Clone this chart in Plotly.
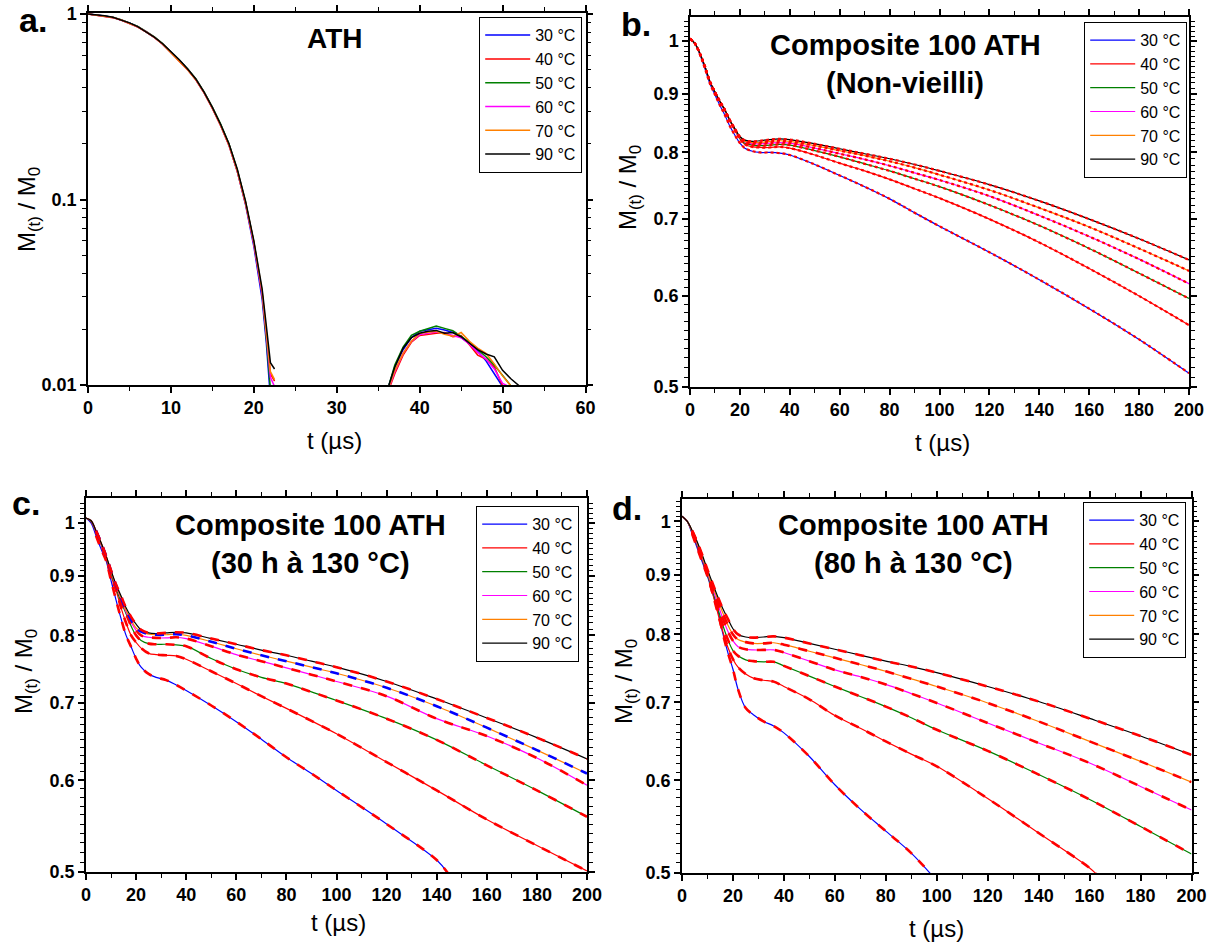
import plotly.graph_objects as go

# ---------------- DATA ----------------
temps = ["30 °C", "40 °C", "50 °C", "60 °C", "70 °C", "90 °C"]

# Panel a (ATH) - first lobe
a_t1 = [0, 1, 2, 3, 4, 5, 6, 7, 8, 9, 10, 11, 12, 13, 14, 15, 16, 17, 18, 19, 20, 21, 21.5, 22, 22.5]
a1_30 = [1.0, 0.99, 0.978, 0.96, 0.93, 0.895, 0.855, 0.805, 0.75, 0.69, 0.625, 0.565, 0.505, 0.445, 0.378, 0.312, 0.252, 0.197, 0.142, 0.094, 0.056, 0.029, 0.017, 0.0085, None]
a1_40 = [1.0, 0.985, 0.975, 0.957, 0.928, 0.892, 0.852, 0.802, 0.748, 0.688, 0.622, 0.562, 0.502, 0.442, 0.376, 0.31, 0.25, 0.196, 0.142, 0.095, 0.058, 0.031, 0.019, 0.0115, 0.0105]
a1_50 = [1.0, 0.99, 0.98, 0.962, 0.933, 0.898, 0.858, 0.808, 0.753, 0.693, 0.628, 0.568, 0.508, 0.448, 0.381, 0.315, 0.255, 0.2, 0.145, 0.097, 0.059, 0.031, 0.018, 0.0095, None]
a1_60 = [1.0, 0.988, 0.977, 0.958, 0.929, 0.894, 0.854, 0.804, 0.749, 0.689, 0.624, 0.564, 0.504, 0.444, 0.377, 0.311, 0.251, 0.197, 0.143, 0.096, 0.058, 0.031, 0.019, 0.011, 0.0098]
a1_70 = [1.0, 0.987, 0.976, 0.958, 0.929, 0.893, 0.853, 0.803, 0.749, 0.689, 0.623, 0.563, 0.503, 0.443, 0.377, 0.311, 0.251, 0.197, 0.143, 0.096, 0.059, 0.032, 0.02, 0.0118, 0.0107]
a1_90 = [1.0, 0.99, 0.979, 0.961, 0.932, 0.897, 0.857, 0.807, 0.752, 0.692, 0.627, 0.567, 0.507, 0.447, 0.38, 0.314, 0.254, 0.2, 0.146, 0.098, 0.06, 0.033, 0.021, 0.0132, 0.0122]

# Panel a (ATH) - second lobe
a_t2 = [36.3, 37, 38, 39, 40, 41, 42, 43, 44, 45, 46, 47, 48, 49, 50, 51, 52]
a2_30 = [0.01, 0.0125, 0.0155, 0.018, 0.0195, 0.0198, 0.0202, 0.0198, 0.0192, 0.018, 0.0167, 0.0152, 0.0135, 0.0115, 0.0098, None, None]
a2_40 = [0.0095, 0.0115, 0.0145, 0.017, 0.0185, 0.0188, 0.019, 0.0192, 0.0182, 0.0185, 0.0165, 0.0145, 0.0138, 0.0125, 0.0099, None, None]
a2_50 = [0.01, 0.0128, 0.016, 0.0185, 0.0195, 0.0202, 0.0208, 0.0202, 0.0196, 0.0183, 0.017, 0.0155, 0.0142, 0.0128, 0.0112, 0.0099, None]
a2_60 = [0.0097, 0.0118, 0.0148, 0.0172, 0.0187, 0.019, 0.0193, 0.019, 0.0185, 0.018, 0.0166, 0.015, 0.0138, 0.0122, 0.0102, 0.0097, None]
a2_70 = [0.0098, 0.012, 0.0148, 0.0172, 0.019, 0.0192, 0.0195, 0.0188, 0.0183, 0.0192, 0.0172, 0.0158, 0.0148, 0.013, 0.0112, 0.0099, None]
a2_90 = [0.01, 0.0125, 0.0158, 0.018, 0.019, 0.0195, 0.0197, 0.019, 0.0192, 0.0182, 0.0168, 0.0155, 0.0147, 0.0142, 0.012, 0.0108, 0.0099]

# Panels b, c, d share the time grid (µs)
t_grid = [0, 2, 4, 6, 8, 10, 12, 14, 16, 18, 20, 22, 25, 28, 32, 36, 40, 50, 60, 70, 80, 90, 100, 120, 140, 160, 180, 200]

# Panel b: Composite 100 ATH (Non-vieilli)
b_30 = [1.005, 0.995, 0.973, 0.946, 0.918, 0.898, 0.879, 0.862, 0.843, 0.828, 0.815, 0.807, 0.802, 0.800, 0.800, 0.799, 0.796, 0.781, 0.764, 0.747, 0.729, 0.709, 0.690, 0.655, 0.620, 0.585, 0.550, 0.514]
b_40 = [1.005, 0.995, 0.975, 0.95, 0.922, 0.903, 0.886, 0.870, 0.852, 0.836, 0.822, 0.813, 0.809, 0.808, 0.808, 0.809, 0.807, 0.796, 0.783, 0.771, 0.758, 0.744, 0.730, 0.700, 0.668, 0.634, 0.600, 0.566]
b_50 = [1.005, 0.995, 0.975, 0.95, 0.922, 0.903, 0.886, 0.871, 0.853, 0.838, 0.823, 0.815, 0.812, 0.811, 0.812, 0.813, 0.812, 0.803, 0.793, 0.782, 0.771, 0.759, 0.747, 0.720, 0.691, 0.660, 0.628, 0.597]
b_60 = [1.005, 0.995, 0.975, 0.95, 0.922, 0.903, 0.886, 0.871, 0.853, 0.838, 0.824, 0.817, 0.814, 0.814, 0.815, 0.816, 0.815, 0.807, 0.798, 0.789, 0.779, 0.768, 0.757, 0.733, 0.705, 0.676, 0.646, 0.615]
b_70 = [1.005, 0.995, 0.975, 0.95, 0.922, 0.903, 0.886, 0.871, 0.853, 0.839, 0.825, 0.818, 0.816, 0.816, 0.818, 0.819, 0.818, 0.811, 0.803, 0.795, 0.786, 0.776, 0.765, 0.742, 0.716, 0.689, 0.660, 0.631]
b_90 = [1.005, 0.995, 0.975, 0.95, 0.922, 0.903, 0.886, 0.871, 0.853, 0.839, 0.826, 0.820, 0.818, 0.819, 0.821, 0.822, 0.821, 0.814, 0.806, 0.798, 0.790, 0.781, 0.771, 0.750, 0.726, 0.700, 0.673, 0.645]

# Panel c: Composite 100 ATH (30 h à 130 °C)
c_t30 = [0, 2, 4, 6, 8, 10, 12, 14, 16, 18, 20, 22, 25, 28, 32, 36, 40, 50, 60, 70, 80, 90, 100, 120, 140, 145]
c_30 = [1.01, 1.0, 0.975, 0.95, 0.928, 0.892, 0.858, 0.827, 0.800, 0.782, 0.764, 0.751, 0.741, 0.736, 0.732, 0.725, 0.717, 0.696, 0.674, 0.651, 0.628, 0.608, 0.588, 0.550, 0.512, 0.497]
c_40 = [1.01, 1.003, 0.982, 0.958, 0.932, 0.900, 0.875, 0.845, 0.820, 0.800, 0.789, 0.780, 0.772, 0.770, 0.769, 0.768, 0.763, 0.745, 0.727, 0.709, 0.692, 0.675, 0.658, 0.622, 0.588, 0.555, 0.527, 0.501]
c_50 = [1.01, 1.004, 0.984, 0.96, 0.934, 0.905, 0.878, 0.855, 0.835, 0.815, 0.800, 0.792, 0.787, 0.786, 0.786, 0.785, 0.783, 0.764, 0.748, 0.736, 0.727, 0.715, 0.703, 0.678, 0.650, 0.618, 0.588, 0.558]
c_60 = [1.01, 1.005, 0.985, 0.961, 0.936, 0.908, 0.882, 0.86, 0.838, 0.821, 0.808, 0.800, 0.797, 0.796, 0.796, 0.797, 0.795, 0.783, 0.770, 0.760, 0.750, 0.740, 0.730, 0.709, 0.678, 0.655, 0.627, 0.594]
c_70 = [1.01, 1.005, 0.985, 0.962, 0.937, 0.909, 0.884, 0.862, 0.841, 0.825, 0.812, 0.806, 0.802, 0.801, 0.801, 0.802, 0.800, 0.790, 0.779, 0.769, 0.760, 0.751, 0.742, 0.721, 0.695, 0.666, 0.637, 0.608]
c_90 = [1.01, 1.005, 0.985, 0.962, 0.937, 0.91, 0.885, 0.865, 0.845, 0.83, 0.818, 0.809, 0.804, 0.803, 0.804, 0.805, 0.804, 0.795, 0.786, 0.777, 0.769, 0.760, 0.751, 0.730, 0.705, 0.679, 0.653, 0.626]

# Panel d: Composite 100 ATH (80 h à 130 °C)
d_t30 = [0, 2, 4, 6, 8, 10, 12, 14, 16, 18, 20, 22, 25, 28, 32, 36, 40, 50, 60, 70, 80, 90, 98]
d_30 = [1.01, 1.0, 0.975, 0.948, 0.922, 0.897, 0.868, 0.84, 0.802, 0.772, 0.747, 0.718, 0.692, 0.683, 0.674, 0.668, 0.659, 0.629, 0.595, 0.567, 0.543, 0.520, 0.498]
d_t40 = [0, 2, 4, 6, 8, 10, 12, 14, 16, 18, 20, 22, 25, 28, 32, 36, 40, 50, 60, 70, 80, 90, 100, 120, 140, 160, 163]
d_40 = [1.01, 1.0, 0.978, 0.952, 0.926, 0.900, 0.868, 0.835, 0.805, 0.780, 0.762, 0.750, 0.740, 0.734, 0.731, 0.729, 0.722, 0.704, 0.682, 0.665, 0.648, 0.632, 0.617, 0.579, 0.541, 0.505, 0.498]
d_50 = [1.01, 1.0, 0.979, 0.954, 0.928, 0.900, 0.872, 0.843, 0.815, 0.792, 0.775, 0.767, 0.761, 0.759, 0.758, 0.758, 0.752, 0.737, 0.722, 0.708, 0.694, 0.679, 0.663, 0.636, 0.607, 0.578, 0.548, 0.519]
d_60 = [1.01, 1.0, 0.98, 0.956, 0.93, 0.903, 0.876, 0.85, 0.826, 0.805, 0.790, 0.781, 0.777, 0.776, 0.776, 0.776, 0.772, 0.759, 0.746, 0.736, 0.725, 0.712, 0.699, 0.672, 0.646, 0.621, 0.593, 0.566]
d_70 = [1.01, 1.0, 0.981, 0.958, 0.932, 0.905, 0.880, 0.857, 0.835, 0.815, 0.800, 0.792, 0.788, 0.786, 0.786, 0.787, 0.784, 0.774, 0.764, 0.754, 0.744, 0.733, 0.722, 0.699, 0.674, 0.648, 0.623, 0.598]
d_90 = [1.01, 1.0, 0.982, 0.96, 0.935, 0.909, 0.885, 0.862, 0.842, 0.825, 0.809, 0.800, 0.796, 0.795, 0.796, 0.797, 0.795, 0.786, 0.777, 0.768, 0.759, 0.751, 0.742, 0.722, 0.701, 0.678, 0.655, 0.631]

# ---------------- STYLE / LAYOUT ----------------
W, H = 1213, 944
colors = ["#0000ff", "#ff0000", "#008000", "#ff00ff", "#ff8000", "#000000"]
FONT = "Liberation Sans, Arial, sans-serif"


def px(x):
    return x / W


def py(y):
    return 1 - y / H


fig = go.Figure()

# panel a
a_x = a_t1 + [None] + a_t2
a_sets = [(a1_30, a2_30), (a1_40, a2_40), (a1_50, a2_50), (a1_60, a2_60), (a1_70, a2_70), (a1_90, a2_90)]
for i, (l1, l2) in enumerate(a_sets):
    fig.add_trace(go.Scatter(x=a_x, y=l1 + [None] + l2, mode="lines", name=temps[i],
                             line=dict(color=colors[i], width=1.5), connectgaps=False,
                             xaxis="x", yaxis="y", legend="legend"))

# panel b
b_sets = [b_30, b_40, b_50, b_60, b_70, b_90]
for i, v in enumerate(b_sets):
    fig.add_trace(go.Scatter(x=t_grid, y=v, mode="lines", name=temps[i], line_shape="spline",
                             line=dict(color=colors[i], width=1.2), xaxis="x2", yaxis="y2", legend="legend2"))
for i, v in enumerate(b_sets):
    fig.add_trace(go.Scatter(x=t_grid, y=v, mode="lines", showlegend=False, line_shape="spline",
                             line=dict(color="#ff0000", width=2.2, dash="dot"), xaxis="x2", yaxis="y2"))

# panel c
c_sets = [(c_t30, c_30), (t_grid, c_40), (t_grid, c_50), (t_grid, c_60), (t_grid, c_70), (t_grid, c_90)]
for i, (tx, v) in enumerate(c_sets):
    fig.add_trace(go.Scatter(x=tx, y=v, mode="lines", name=temps[i], line_shape="spline",
                             line=dict(color=colors[i], width=1.2), xaxis="x3", yaxis="y3", legend="legend3"))
for i, (tx, v) in enumerate(c_sets):
    fc = "#0000ff" if i == 4 else "#ff0000"
    fig.add_trace(go.Scatter(x=tx[2:], y=v[2:], mode="lines", showlegend=False, line_shape="spline",
                             line=dict(color=fc, width=2.6, dash="dash"), xaxis="x3", yaxis="y3"))

# panel d
d_sets = [(d_t30, d_30), (d_t40, d_40), (t_grid, d_50), (t_grid, d_60), (t_grid, d_70), (t_grid, d_90)]
for i, (tx, v) in enumerate(d_sets):
    fig.add_trace(go.Scatter(x=tx, y=v, mode="lines", name=temps[i], line_shape="spline",
                             line=dict(color=colors[i], width=1.2), xaxis="x4", yaxis="y4", legend="legend4"))
for i, (tx, v) in enumerate(d_sets):
    fig.add_trace(go.Scatter(x=tx[2:], y=v[2:], mode="lines", showlegend=False, line_shape="spline",
                             line=dict(color="#ff0000", width=2.6, dash="dash"), xaxis="x4", yaxis="y4"))

tickfont = dict(family=FONT, size=18, color="black", weight="bold")
common = dict(showline=True, linecolor="black", linewidth=1.5, mirror="allticks", ticks="outside",
              ticklen=6, tickwidth=1.5, tickcolor="black", showgrid=False, zeroline=False,
              tickfont=tickfont, automargin=False)

lin_major_b = [0, 20, 40, 60, 80, 100, 120, 140, 160, 180, 200]
lin_minor_b = [10, 30, 50, 70, 90, 110, 130, 150, 170, 190]
y_major = [0.5, 0.6, 0.7, 0.8, 0.9, 1.0]
y_text = ["0.5", "0.6", "0.7", "0.8", "0.9", "1"]
y_minor = [round(0.5 + 0.01 * k, 2) for k in range(1, 55) if k % 10 != 0]
minor_lin = dict(tickvals=lin_minor_b, ticklen=4, tickwidth=1.2, tickcolor="black", ticks="outside")
minor_log = dict(tickvals=y_minor, ticklen=4, tickwidth=1.1, tickcolor="black", ticks="outside")

dom = {
    "a": ([px(88), px(585.5)], [py(385), py(13)]),
    "b": ([px(690), px(1189)], [py(387), py(17)]),
    "c": ([px(86), px(587)], [py(872), py(498)]),
    "d": ([px(682), px(1191.5)], [py(873), py(499)]),
}

a_minor_y = [k * 0.01 for k in range(2, 10)] + [k * 0.1 for k in range(2, 10)]

fig.update_layout(
    width=W, height=H, margin=dict(l=0, r=0, t=0, b=0),
    paper_bgcolor="white", plot_bgcolor="white",
    font=dict(family=FONT, color="black"),
    xaxis=dict(domain=dom["a"][0], anchor="y", range=[0, 60], tickvals=[0, 10, 20, 30, 40, 50, 60],
               minor=dict(tickvals=[5, 15, 25, 35, 45, 55], ticklen=4, tickwidth=1.2, tickcolor="black", ticks="outside"),
               **common),
    yaxis=dict(domain=dom["a"][1], anchor="x", type="log", range=[-2, 0.006],
               tickvals=[0.01, 0.1, 1], ticktext=["0.01", "0.1", "1"],
               minor=dict(tickvals=a_minor_y, ticklen=4, tickwidth=1.2, tickcolor="black", ticks="outside"),
               **common),
    xaxis2=dict(domain=dom["b"][0], anchor="y2", range=[0, 200], tickvals=lin_major_b, minor=minor_lin, **common),
    yaxis2=dict(domain=dom["b"][1], anchor="x2", type="log", range=[-0.30103, 0.021],
                tickvals=y_major, ticktext=y_text, minor=minor_log, **common),
    xaxis3=dict(domain=dom["c"][0], anchor="y3", range=[0, 200], tickvals=lin_major_b, minor=minor_lin, **common),
    yaxis3=dict(domain=dom["c"][1], anchor="x3", type="log", range=[-0.30103, 0.0216],
                tickvals=y_major, ticktext=y_text, minor=minor_log, **common),
    xaxis4=dict(domain=dom["d"][0], anchor="y4", range=[0, 200], tickvals=lin_major_b, minor=minor_lin, **common),
    yaxis4=dict(domain=dom["d"][1], anchor="x4", type="log", range=[-0.30103, 0.019],
                tickvals=y_major, ticktext=y_text, minor=minor_log, **common),
)

leg_common = dict(bgcolor="white", bordercolor="black", borderwidth=1.2,
                  font=dict(family=FONT, size=16, color="black"), xanchor="left", yanchor="top",
                  tracegroupgap=0, itemwidth=45)
fig.update_layout(
    legend=dict(x=px(479), y=py(17), **leg_common),
    legend2=dict(x=px(1084), y=py(22), **leg_common),
    legend3=dict(x=px(476), y=py(506), **leg_common),
    legend4=dict(x=px(1083), y=py(502), **leg_common),
)

ann = []


def text(x, y, s, size, bold=False, angle=0):
    ann.append(dict(x=px(x), y=py(y), xref="paper", yref="paper", text=s, showarrow=False,
                    xanchor="center", yanchor="middle", textangle=angle,
                    font=dict(family=FONT, size=size, color="black", weight="bold" if bold else "normal")))


# panel letters
text(33, 20, "a.", 34, True)
text(636, 24, "b.", 34, True)
text(26, 503, "c.", 34, True)
text(627, 508, "d.", 34, True)
# panel titles
text(335, 38, "ATH", 28, True)
text(905, 45, "Composite 100 ATH", 29, True)
text(905, 83, "(Non-vieilli)", 29, True)
text(310, 525, "Composite 100 ATH", 29, True)
text(310, 563, "(30 h à 130 °C)", 29, True)
text(913, 525, "Composite 100 ATH", 29, True)
text(913, 563, "(80 h à 130 °C)", 29, True)
# axis titles
ytitle = "M<sub>(t)</sub> / M<sub>0</sub>"
text(335, 440, "t (µs)", 24)
text(942, 442, "t (µs)", 24)
text(339, 922, "t (µs)", 24)
text(936, 928, "t (µs)", 24)
text(29, 210, ytitle, 24, angle=-90)
text(629, 188, ytitle, 24, angle=-90)
text(25, 672, ytitle, 24, angle=-90)
text(625, 682, ytitle, 24, angle=-90)
fig.update_layout(annotations=ann)

fig.write_html("out.html", config={"displayModeBar": False},
               post_script="document.body.style.margin='0';document.body.style.padding='0';")
